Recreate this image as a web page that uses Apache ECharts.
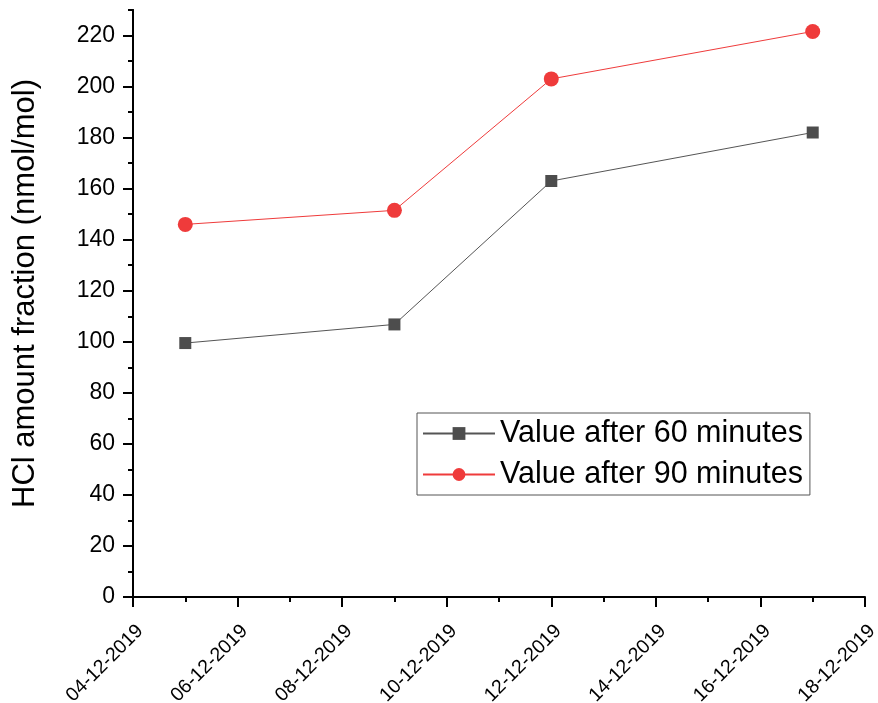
<!DOCTYPE html>
<html>
<head>
<meta charset="utf-8">
<script src="https://cdn.jsdelivr.net/npm/echarts@6/dist/echarts.min.js"></script>
<style>html,body{margin:0;padding:0;background:#fff}#c{width:878px;height:703px}</style>
</head>
<body>
<div id="c"></div>
<script>
// ---- data ----
const dates = ['2019-12-05', '2019-12-09', '2019-12-12', '2019-12-17'];
const after60 = [99.5, 106.8, 163, 182];
const after90 = [146, 151.5, 203, 221.6];
const seriesNames = ['Value after 60 minutes', 'Value after 90 minutes'];
const xMinDate = '2019-12-04';
const xMaxDate = '2019-12-18';
const yMajorTicks = [0, 20, 40, 60, 80, 100, 120, 140, 160, 180, 200, 220];
const yAxisTitle = 'HCl amount fraction (nmol/mol)';

// ---- helpers ----
const DAY = 86400000;
function ts(s) { const p = s.split('-').map(Number); return Date.UTC(p[0], p[1] - 1, p[2]); }
function fmt(v) {
  const d = new Date(v);
  const dd = String(d.getUTCDate()).padStart(2, '0');
  const mm = String(d.getUTCMonth() + 1).padStart(2, '0');
  return dd + '-' + mm + '-' + d.getUTCFullYear();
}
const FONT = "'Liberation Sans', Arial, sans-serif";

const chart = echarts.init(document.getElementById('c'), null, { renderer: 'canvas' });
chart.setOption({
  backgroundColor: '#fff',
  animation: false,
  grid: { left: 133, right: 13, top: 10, bottom: 106, containLabel: false, outerBoundsMode: 'none' },
  legend: {
    orient: 'vertical',
    left: 417, top: 413,
    padding: [5, 7, 5, 5],
    itemGap: 10,
    itemWidth: 72,
    itemHeight: 16,
    borderColor: '#555', borderWidth: 1,
    textStyle: { fontSize: 30.5, color: '#000', fontFamily: FONT },
    data: seriesNames
  },
  xAxis: {
    type: 'value',
    min: ts(xMinDate), max: ts(xMaxDate), interval: 2 * DAY,
    axisLine: { show: true, lineStyle: { color: '#000', width: 2 } },
    axisTick: { show: true, inside: false, length: 10, lineStyle: { color: '#000', width: 2 } },
    minorTick: { show: true, splitNumber: 2, length: 5, lineStyle: { color: '#000', width: 2 } },
    splitLine: { show: false },
    axisLabel: {
      rotate: 45, margin: 24, verticalAlign: 'top',
      fontSize: 19.5, color: '#000', fontFamily: FONT,
      formatter: fmt, showMinLabel: true, showMaxLabel: true
    }
  },
  yAxis: [{
    type: 'value', min: 0, max: 230, interval: 10,
    axisLine: { show: true, lineStyle: { color: '#000', width: 2 } },
    axisTick: { show: true, length: 5, lineStyle: { color: '#000', width: 2 } },
    axisLabel: { show: false },
    splitLine: { show: false }
  }, {
    type: 'value', min: 0, max: 230, interval: 10, position: 'left',
    name: yAxisTitle, nameLocation: 'middle', nameGap: 92,
    nameTextStyle: { fontSize: 31, color: '#000', fontFamily: FONT, padding: [0, 0, 0, 20] },
    axisLine: { show: true, lineStyle: { color: '#000', width: 2 } },
    axisTick: { show: true, length: 10, customValues: yMajorTicks, lineStyle: { color: '#000', width: 2 } },
    axisLabel: { show: true, customValues: yMajorTicks, margin: 18, fontSize: 23, color: '#000', fontFamily: FONT },
    splitLine: { show: false }
  }],
  series: [{
    name: seriesNames[0], type: 'line', yAxisIndex: 1,
    data: dates.map((d, i) => [ts(d), after60[i]]),
    symbol: 'rect', symbolSize: 12,
    itemStyle: { color: '#4d4d4d' },
    lineStyle: { color: '#555', width: 1 }
  }, {
    name: seriesNames[1], type: 'line', yAxisIndex: 1,
    data: dates.map((d, i) => [ts(d), after90[i]]),
    symbol: 'circle', symbolSize: 15,
    itemStyle: { color: '#ef3b3b' },
    lineStyle: { color: '#ef3b3b', width: 1 }
  }]
});
</script>
</body>
</html>
